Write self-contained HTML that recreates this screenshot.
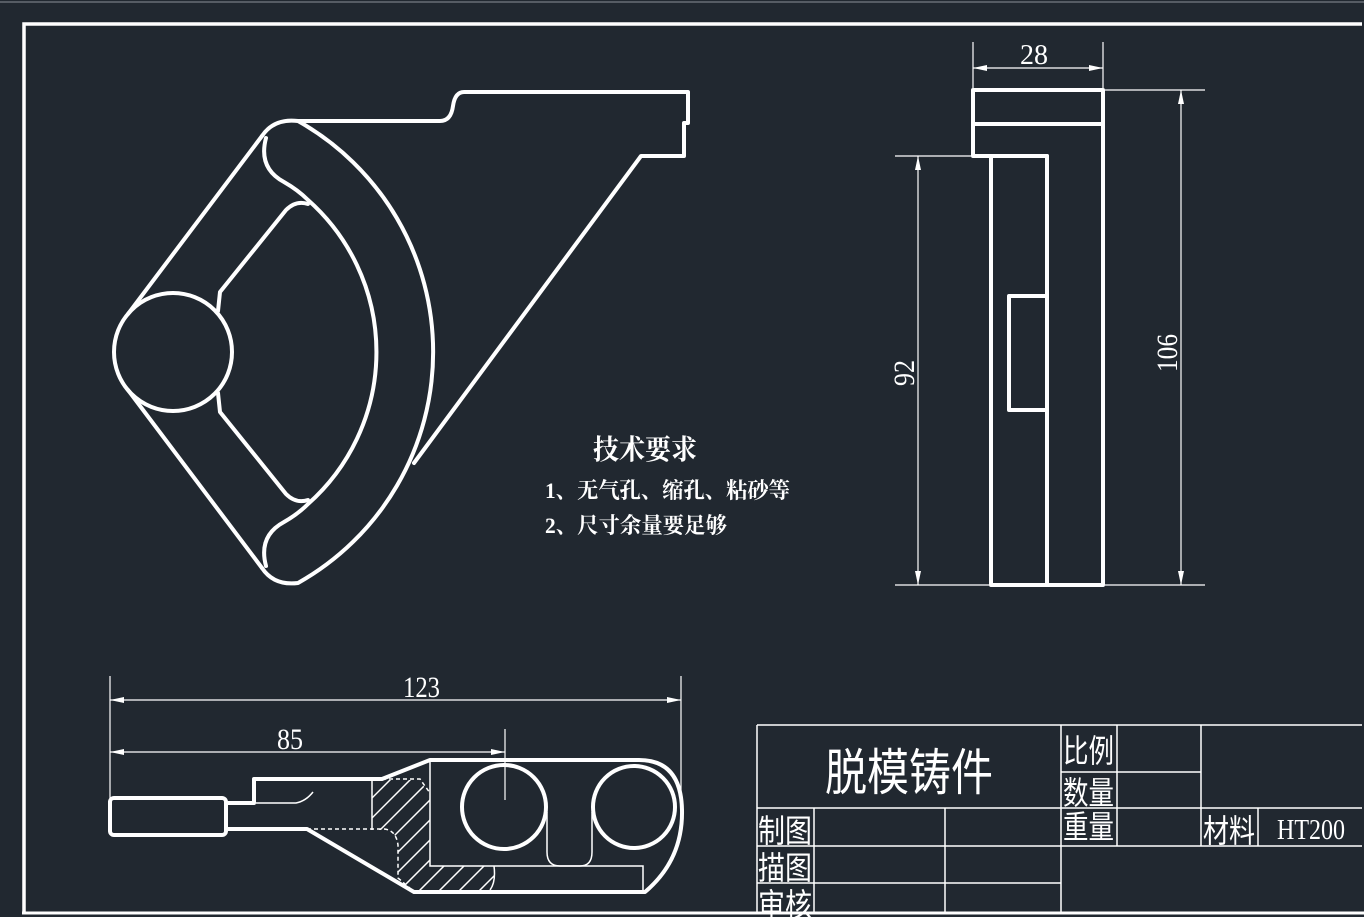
<!DOCTYPE html>
<html><head><meta charset="utf-8"><style>
html,body{margin:0;padding:0;background:#212830;}
svg{display:block}
text{fill:#fff;font-family:"Liberation Serif","Noto Serif CJK SC",serif;}
.c{font-family:"Liberation Sans","Noto Sans CJK SC",sans-serif;}
</style></head><body>
<svg width="1364" height="917" viewBox="0 0 1364 917" xmlns="http://www.w3.org/2000/svg">
<rect width="1364" height="917" fill="#212830"/>
<line x1="0" y1="2" x2="1364" y2="2" stroke="#8a9099" stroke-width="1"/>
<path d="M24,913 L24,24 L1362,24" fill="none" stroke="#fff" stroke-width="3.5"/>
<line x1="22" y1="913" x2="1364" y2="913" stroke="#fff" stroke-width="3"/>

<g fill="none" stroke="#fff" stroke-width="4" stroke-linejoin="round" stroke-linecap="round">
<circle cx="173" cy="352" r="59"/>
<line x1="128" y1="314" x2="262" y2="136"/>
<line x1="128" y1="390" x2="262" y2="568"/>
<path d="M262,136 Q274,118 298,121 A265,265 0 0 1 298,583 Q274,586 262,568"/>
<path d="M266,138 Q258,168 284,182 Q298,190 308,200 A203,203 0 0 1 308,504 Q298,514 284,522 Q258,536 266,566"/>
<path d="M308,204 Q296,200 286,210 L220,292 L218,311"/>
<path d="M308,500 Q296,504 286,494 L220,412 L218,393"/>
<path d="M298,121 L440,121 Q451,121 453,106 Q455,92 464,92 L688,92 L688,123 L684,123 L684,156 L641,156 L414,463"/>

<rect x="973" y="90" width="130" height="34"/>
<path d="M973,124 L973,156 L991,156 L991,585 L1103,585 L1103,124"/>
<line x1="991" y1="156" x2="1047" y2="156"/>
<line x1="1047" y1="156" x2="1047" y2="585"/>
<path d="M1047,296 L1009,296 L1009,410 L1047,410"/>

<rect x="110" y="798" width="116" height="37" rx="4"/>
<path d="M226,803 L254,803 L254,779 L382,779 L430,760 L639,760 Q681,760 682,810 Q683,860 645,892 L414,892 L307,829 L226,829"/>
<circle cx="504" cy="807" r="42"/>
<circle cx="634" cy="807" r="41"/>
</g>

<g fill="none" stroke="#fff" stroke-width="1.5">
<path d="M430,762 L430,866 L643,866 L643,892"/>
<path d="M547,812 L547,852 Q547,866 560,866 L580,866 Q592,866 592,852 L592,812"/>
<path d="M372,779 L372,830"/>
<path d="M256,803 L296,803 Q306,801 313,792"/>
<path d="M494,866 Q496,882 490,890"/>
<clipPath id="hc"><path d="M372,780 L418,780 L430,793 L430,866 L494,866 Q496,882 490,890 L414,890 L398,878 L398,845 Q396,830 384,830 L372,830 Z"/></clipPath>
<g clip-path="url(#hc)">
<path d="M330,900 L470,760 M350,900 L490,760 M370,900 L510,760 M390,900 L530,760 M410,900 L550,760 M430,900 L570,760 M450,900 L590,760 M470,900 L610,760 M490,900 L630,760 M310,900 L450,760 M290,900 L430,760 M270,900 L410,760 M250,900 L390,760"/>
</g>
<path d="M382,779 L420,779 L430,793" stroke-dasharray="4,3"/>
<path d="M307,829 L384,829 Q396,830 398,845 L398,878 L412,890" stroke-dasharray="4,3"/>
</g>

<g stroke="#fff" stroke-width="1.2" fill="none">
<line x1="973" y1="42" x2="973" y2="88"/><line x1="1103" y1="42" x2="1103" y2="88"/>
<line x1="973" y1="68" x2="1103" y2="68"/>
<line x1="1105" y1="90" x2="1205" y2="90"/><line x1="1105" y1="585" x2="1205" y2="585"/>
<line x1="1181" y1="90" x2="1181" y2="585"/>
<line x1="895" y1="156" x2="971" y2="156"/><line x1="895" y1="585" x2="989" y2="585"/>
<line x1="918" y1="156" x2="918" y2="585"/>
<line x1="110" y1="676" x2="110" y2="800"/><line x1="681" y1="676" x2="681" y2="805"/>
<line x1="110" y1="700" x2="681" y2="700"/>
<line x1="110" y1="752" x2="505" y2="752"/>
<line x1="505" y1="729" x2="505" y2="800"/>
</g>
<g fill="#fff">
<path d="M973,68 l14,-3 v6z"/><path d="M1103,68 l-14,-3 v6z"/>
<path d="M1181,90 l-3,14 h6z"/><path d="M1181,585 l-3,-14 h6z"/>
<path d="M918,156 l-3,14 h6z"/><path d="M918,585 l-3,-14 h6z"/>
<path d="M110,700 l14,-3 v6z"/><path d="M681,700 l-14,-3 v6z"/>
<path d="M110,752 l14,-3 v6z"/><path d="M505,752 l-14,-3 v6z"/>
</g>
<text x="1020" y="64" font-size="28" textLength="28" lengthAdjust="spacingAndGlyphs">28</text>
<text x="403" y="697" font-size="30" textLength="37" lengthAdjust="spacingAndGlyphs">123</text>
<text x="277" y="749" font-size="30" textLength="26" lengthAdjust="spacingAndGlyphs">85</text>
<text transform="translate(1177,372) rotate(-90)" font-size="30" textLength="38" lengthAdjust="spacingAndGlyphs">106</text>
<text transform="translate(914,386) rotate(-90)" font-size="30" textLength="26" lengthAdjust="spacingAndGlyphs">92</text>

<text x="593" y="459" font-size="28" font-weight="bold" textLength="104" lengthAdjust="spacingAndGlyphs">技术要求</text>
<text x="545" y="498" font-size="22" font-weight="bold" textLength="245" lengthAdjust="spacingAndGlyphs">1、无气孔、缩孔、粘砂等</text>
<text x="545" y="533" font-size="22" font-weight="bold" textLength="182" lengthAdjust="spacingAndGlyphs">2、尺寸余量要足够</text>

<g stroke="#fff" stroke-width="1.5" fill="none">
<line x1="757" y1="725" x2="1362" y2="725"/>
<line x1="757" y1="725" x2="757" y2="913"/>
<line x1="1061" y1="725" x2="1061" y2="913"/>
<line x1="1201" y1="725" x2="1201" y2="846"/>
<line x1="1117" y1="725" x2="1117" y2="846"/>
<line x1="1061" y1="772" x2="1201" y2="772"/>
<line x1="757" y1="808" x2="1362" y2="808"/>
<line x1="757" y1="846" x2="1362" y2="846"/>
<line x1="757" y1="883" x2="1061" y2="883"/>
<line x1="814" y1="808" x2="814" y2="913"/>
<line x1="945" y1="808" x2="945" y2="913"/>
<line x1="1258" y1="808" x2="1258" y2="846"/>
</g>
<text class="c" x="825" y="790" font-size="50" textLength="168" lengthAdjust="spacingAndGlyphs">脱模铸件</text>
<text class="c" x="1063" y="762" font-size="32" textLength="51" lengthAdjust="spacingAndGlyphs">比例</text>
<text class="c" x="1063" y="804" font-size="32" textLength="51" lengthAdjust="spacingAndGlyphs">数量</text>
<text class="c" x="1063" y="838" font-size="32" textLength="51" lengthAdjust="spacingAndGlyphs">重量</text>
<text class="c" x="758" y="842" font-size="32" textLength="54" lengthAdjust="spacingAndGlyphs">制图</text>
<text class="c" x="758" y="879" font-size="32" textLength="54" lengthAdjust="spacingAndGlyphs">描图</text>
<text class="c" x="758" y="916" font-size="32" textLength="54" lengthAdjust="spacingAndGlyphs">审核</text>
<text class="c" x="1203" y="842" font-size="32" textLength="52" lengthAdjust="spacingAndGlyphs">材料</text>
<text x="1277" y="839" font-size="28" textLength="68" lengthAdjust="spacingAndGlyphs">HT200</text>
</svg>
</body></html>
